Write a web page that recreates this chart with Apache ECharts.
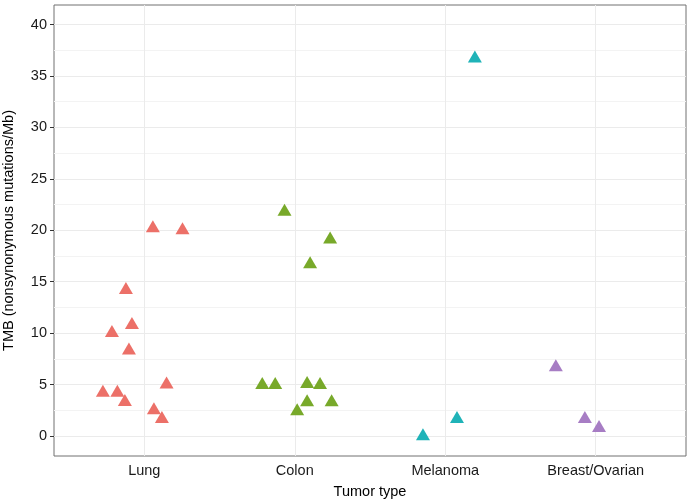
<!DOCTYPE html>
<html>
<head>
<meta charset="utf-8">
<script src="https://cdn.jsdelivr.net/npm/echarts@6/dist/echarts.min.js"></script>
<style>html,body{margin:0;padding:0;background:#fff}#c{width:690px;height:500px}</style>
</head>
<body>
<div id="c"></div>
<script>
var categories = ['Lung', 'Colon', 'Melanoma', 'Breast/Ovarian'];
var yTicks = [0, 5, 10, 15, 20, 25, 30, 35, 40];
var yMinor = [2.5, 7.5, 12.5, 17.5, 22.5, 27.5, 32.5, 37.5];
// jittered x positions (category index + jitter) and TMB values
var lungX = [1.057, 1.254, 0.878, 0.918, 0.785, 0.898, 1.148, 0.725, 0.821, 0.871, 1.064, 1.117];
var lungY = [20.4, 20.2, 14.4, 11.0, 10.2, 8.5, 5.2, 4.4, 4.4, 3.5, 2.7, 1.85];
var colonX = [1.932, 2.235, 2.102, 1.784, 1.870, 2.082, 2.168, 2.082, 2.245, 2.016];
var colonY = [22.0, 19.3, 16.9, 5.15, 5.15, 5.25, 5.15, 3.47, 3.47, 2.6];
var melX = [3.197, 2.852, 3.078];
var melY = [36.9, 0.17, 1.85];
var brX = [3.735, 3.928, 4.022];
var brY = [6.87, 1.85, 0.97];
var colors = ['#EC7068', '#78A92A', '#1FB3B8', '#A77DC4'];

function pts(xs, ys) { return xs.map(function (x, i) { return [x, ys[i]]; }); }
var catPos = categories.map(function (c, i) { return i + 1; });
var font = 'Liberation Sans, Arial, sans-serif';

var chart = echarts.init(document.getElementById('c'), null, { renderer: 'canvas' });
var gridLines = [];
yMinor.forEach(function (v) { gridLines.push({ yAxis: v, lineStyle: { color: '#F3F3F3', width: 1, type: 'solid' } }); });
yTicks.forEach(function (v) { gridLines.push({ yAxis: v, lineStyle: { color: '#EBEBEB', width: 1, type: 'solid' } }); });
catPos.forEach(function (v) { gridLines.push({ xAxis: v, lineStyle: { color: '#EBEBEB', width: 1, type: 'solid' } }); });

function sc(name, xs, ys, color) {
  return {
    name: name, type: 'scatter', data: pts(xs, ys), symbol: 'triangle', symbolSize: [14, 12],
    itemStyle: { color: color, opacity: 1 }, z: 5
  };
}

chart.setOption({
  animation: false,
  grid: { left: 54, right: 4, top: 5, bottom: 44, outerBoundsMode: 'none', containLabel: false,
    show: true, borderColor: '#707070', borderWidth: 1, backgroundColor: 'transparent' },
  xAxis: {
    type: 'value', min: 0.4, max: 4.6,
    name: 'Tumor type', nameLocation: 'middle', nameGap: 28,
    nameTextStyle: { fontFamily: font, fontSize: 14.5, color: '#000' },
    axisLine: { show: false },
    splitLine: { show: false },
    axisTick: { show: true, length: 4, lineStyle: { color: '#333' }, customValues: catPos },
    axisLabel: {
      customValues: catPos, fontFamily: font, fontSize: 14.5, color: '#1a1a1a', margin: 7,
      formatter: function (v) { return categories[Math.round(v) - 1] || ''; }
    }
  },
  yAxis: {
    type: 'value', min: -1.94, max: 41.9,
    name: 'TMB (nonsynonymous mutations/Mb)', nameLocation: 'middle', nameGap: 38, nameRotate: 90,
    nameTextStyle: { fontFamily: font, fontSize: 14.5, color: '#000' },
    axisLine: { show: false },
    splitLine: { show: false },
    axisTick: { show: true, length: 4, lineStyle: { color: '#333' }, customValues: yTicks },
    axisLabel: { customValues: yTicks, fontFamily: font, fontSize: 14.5, color: '#1a1a1a', margin: 7 }
  },
  series: [
    {
      type: 'scatter', data: [], silent: true, z: 1,
      markLine: { silent: true, symbol: ['none', 'none'], label: { show: false }, animation: false, data: gridLines }
    },
    sc('Lung', lungX, lungY, colors[0]),
    sc('Colon', colonX, colonY, colors[1]),
    sc('Melanoma', melX, melY, colors[2]),
    sc('Breast/Ovarian', brX, brY, colors[3])
  ]
});
</script>
</body>
</html>
